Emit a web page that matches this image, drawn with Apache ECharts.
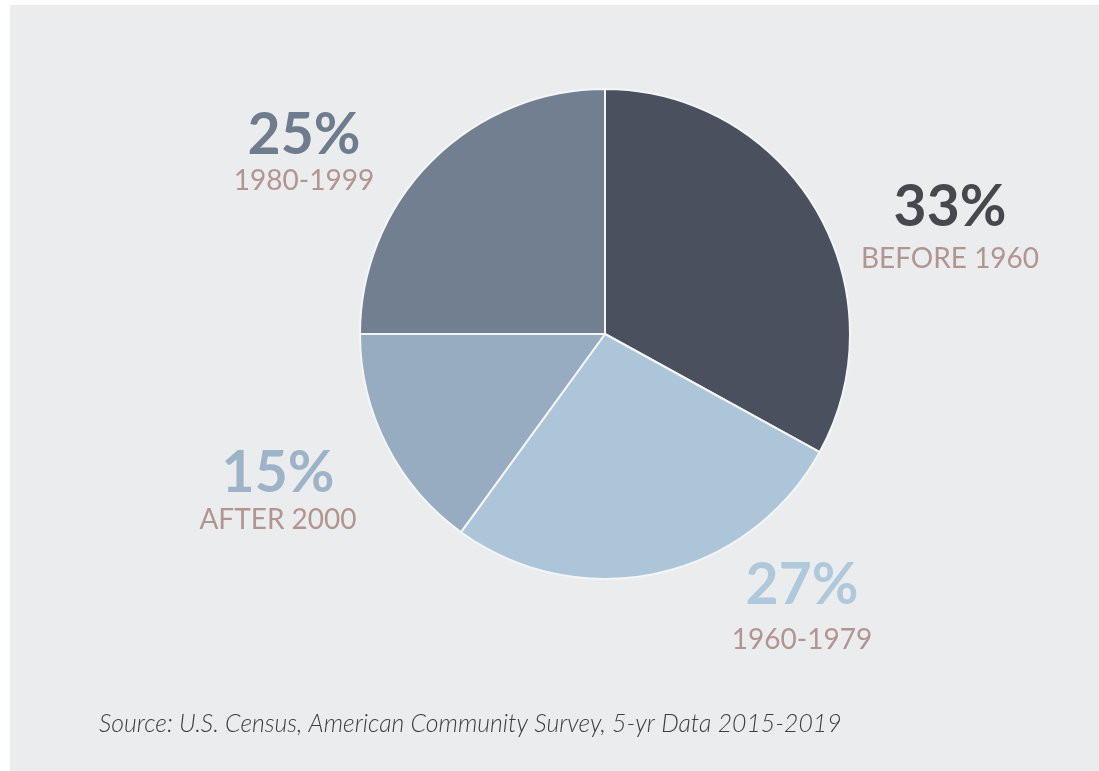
<!DOCTYPE html>
<html><head><meta charset="utf-8">
<script src="https://cdn.jsdelivr.net/npm/echarts@6/dist/echarts.min.js"></script>
<style>html,body{margin:0;padding:0;background:#fff}#c{width:1099px;height:771px}</style>
</head><body><div id="c"></div>
<script>
const categories = ['BEFORE 1960', '1960-1979', 'AFTER 2000', '1980-1999'];
const values = [33, 27, 15, 25];
const sourceText = 'Source: U.S. Census, American Community Survey, 5-yr Data 2015-2019';

const sliceColors = ['#4a505e', '#adc5d8', '#98acc1', '#727f90'];
const pctColors = ['#47484d', '#b0c8db', '#9fb3c8', '#6f7c8e'];
// label block layout: [centerX, centerY, gap between lines]
const labelPos = [[950, 230.5, 51], [802, 611.5, 54], [278, 491.5, 46], [304, 152.5, 45]];

const chart = echarts.init(document.getElementById('c'));
chart.setOption({
  backgroundColor: '#ffffff',
  animation: false,
  graphic: [{ type: 'rect', z: 0, shape: { x: 10, y: 5, width: 1089, height: 766 }, style: { fill: '#ebecee' } }],
  title: {
    text: sourceText, left: 94, top: 707,
    textStyle: { fontFamily: 'Lato', fontStyle: 'italic', fontWeight: 300, fontSize: 24.8, color: '#3e3e41' }
  },
  series: [{
    type: 'pie',
    center: [605, 334],
    radius: [0, 245],
    startAngle: 90,
    clockwise: true,
    itemStyle: { borderColor: '#f4f5f6', borderWidth: 2 },
    labelLine: { show: false },
    data: categories.map((c, i) => ({
      name: c, value: values[i],
      itemStyle: { color: sliceColors[i] },
      label: {
        show: true,
        formatter: '{p|{c}%}\n{n|{b}}',
        align: 'center', verticalAlign: 'middle',
        rich: {
          p: { fontFamily: 'Lato', fontWeight: 'bold', fontSize: 57, lineHeight: 56, color: pctColors[i], align: 'center' },
          n: { fontFamily: 'Lato', fontSize: 28, lineHeight: 2 * labelPos[i][2] - 56, color: '#b29590', align: 'center' }
        }
      }
    })),
    labelLayout: function (p) {
      const pos = labelPos[p.dataIndex];
      return { x: pos[0], y: pos[1], align: 'center', verticalAlign: 'middle' };
    }
  }]
});
</script></body></html>
